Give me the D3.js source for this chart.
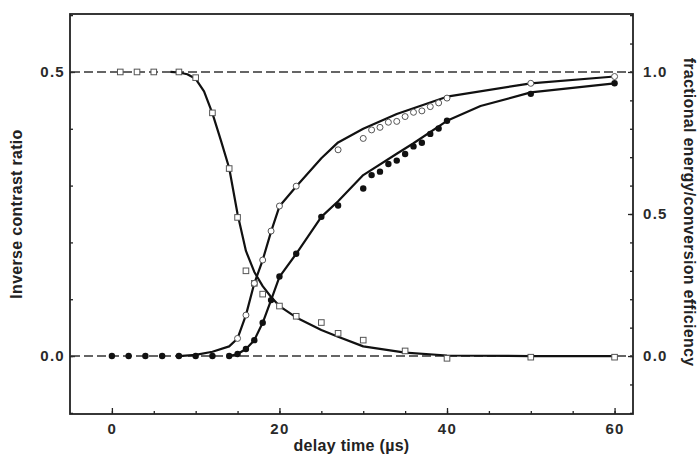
<!DOCTYPE html>
<html>
<head>
<meta charset="utf-8">
<style>
	body { margin: 0; background: #fff; }
	svg { font-family: "Liberation Sans", Arial, sans-serif; }
	.axis text { font-size: 15px; font-weight: bold; fill: #2a2a2a; letter-spacing: 1.3px; }
	.axis line { stroke: #222; stroke-width: 1.3; }
	.title { font-size: 16px; font-weight: bold; fill: #222; letter-spacing: 0.3px; }
</style>
<script src="https://d3js.org/d3.v7.min.js"></script>
</head>
<body>
<svg width="699" height="456"></svg>
<script>

	// inverse contrast ratio (left axis), open squares
	var sqT = [1, 3, 5, 8, 10, 12, 14, 15, 16, 17, 18, 20, 22, 25, 27, 30, 35, 40, 50, 60];
	var sqV = [0.5, 0.5, 0.5, 0.5, 0.49, 0.428, 0.33, 0.244, 0.150, 0.128, 0.109, 0.088, 0.070, 0.059, 0.040, 0.028, 0.009, -0.004, -0.002, -0.002];
	var sqFitT = [7, 8, 9, 10, 11, 12, 13, 14, 15, 16, 17, 18, 19, 20, 22, 25, 27, 30, 35, 40, 50, 60];
	var sqFitV = [0.5, 0.499, 0.496, 0.488, 0.466, 0.427, 0.38, 0.331, 0.25, 0.185, 0.148, 0.123, 0.104, 0.088, 0.068, 0.046, 0.034, 0.017, 0.006, 0.001, 0, 0];

	// fractional energy (right axis), open circles
	var openT = [15, 16, 17, 18, 19, 20, 22, 27, 30, 31, 32, 33, 34, 35, 36, 37, 38, 39, 40, 50, 60];
	var openF = [0.062, 0.144, 0.256, 0.338, 0.44, 0.528, 0.598, 0.726, 0.766, 0.796, 0.805, 0.823, 0.826, 0.843, 0.858, 0.863, 0.878, 0.891, 0.908, 0.96, 0.984];
	var openFitT = [8, 10, 12, 14, 15, 16, 17, 18, 19, 20, 22, 25, 27, 30, 34, 40, 50, 60];
	var openFitF = [0, 0.004, 0.015, 0.034, 0.062, 0.144, 0.256, 0.338, 0.438, 0.527, 0.597, 0.696, 0.752, 0.80, 0.852, 0.913, 0.96, 0.984];

	// conversion efficiency (right axis), filled circles
	var fillT = [0, 2, 4, 6, 8, 10, 12, 14, 15, 16, 17, 18, 19, 20, 22, 25, 27, 30, 31, 32, 33, 34, 35, 36, 37, 38, 39, 40, 50, 60];
	var fillF = [0, 0, 0, 0, 0, 0, 0, 0, 0.007, 0.025, 0.056, 0.117, 0.197, 0.28, 0.36, 0.49, 0.53, 0.59, 0.637, 0.649, 0.676, 0.688, 0.711, 0.738, 0.751, 0.782, 0.801, 0.828, 0.923, 0.96];
	var fillFitT = [14, 15, 16, 17, 18, 19, 20, 22, 25, 27, 30, 34, 36, 40, 44, 50, 60];
	var fillFitF = [0, 0.007, 0.025, 0.056, 0.117, 0.197, 0.279, 0.36, 0.49, 0.545, 0.637, 0.712, 0.749, 0.828, 0.88, 0.928, 0.96];

	var refLines = [0, 0.5];
	var xTicks = [0, 20, 40, 60];
	var leftTicks = [0, 0.5];
	var rightTicks = [0, 0.5, 1.0];

	var svg = d3.select("svg");
	var fLeft = 70, fRight = 633, fTop = 14, fBottom = 414;

	var x = d3.scaleLinear().domain([-5, 62.2]).range([fLeft, fRight]);
	var yL = d3.scaleLinear().domain([-0.102, 0.602]).range([fBottom, fTop]);
	var yR = d3.scaleLinear().domain([-0.204, 1.204]).range([fBottom, fTop]);

	function pts(ts, vs) { return ts.map(function(t, i) { return [t, vs[i]]; }); }

	// axes: minor ticks first, then labelled major ticks, all pointing inwards
	var gx = svg.append("g").attr("class", "axis").attr("transform", "translate(0," + fBottom + ")");
	gx.call(d3.axisBottom(x).tickValues(d3.range(0, 61, 5)).tickSize(-3).tickFormat(""));
	gx.append("g").call(d3.axisBottom(x).tickValues(xTicks).tickSize(-6).tickPadding(9).tickFormat(d3.format("d")));

	var gl = svg.append("g").attr("class", "axis").attr("transform", "translate(" + fLeft + ",0)");
	gl.call(d3.axisLeft(yL).tickValues(d3.range(-0.1, 0.61, 0.1)).tickSize(-3).tickFormat(""));
	gl.append("g").call(d3.axisLeft(yL).tickValues(leftTicks).tickSize(-5).tickPadding(5).tickFormat(d3.format(".1f")));

	var gr = svg.append("g").attr("class", "axis").attr("transform", "translate(" + fRight + ",0)");
	gr.call(d3.axisRight(yR).tickValues(d3.range(-0.2, 1.21, 0.1)).tickSize(-3).tickFormat(""));
	gr.append("g").call(d3.axisRight(yR).tickValues(rightTicks).tickSize(-5).tickPadding(10).tickFormat(d3.format(".1f")));

	svg.selectAll(".domain").remove();

	svg.append("rect")
		.attr("x", fLeft).attr("y", fTop)
		.attr("width", fRight - fLeft).attr("height", fBottom - fTop)
		.attr("fill", "none").attr("stroke", "#222").attr("stroke-width", 1.8);

	// dashed reference lines
	svg.selectAll(".ref").data(refLines).enter().append("line")
		.attr("x1", fLeft + 1).attr("x2", fRight - 1)
		.attr("y1", function(d) { return yL(d); }).attr("y2", function(d) { return yL(d); })
		.attr("stroke", "#333").attr("stroke-width", 1.6).attr("stroke-dasharray", "9,4");

	// fit curves
	var lineL = d3.line().x(function(d) { return x(d[0]); }).y(function(d) { return yL(d[1]); });
	var lineR = d3.line().x(function(d) { return x(d[0]); }).y(function(d) { return yR(d[1]); });

	[[lineL, pts(sqFitT, sqFitV)], [lineR, pts(openFitT, openFitF)], [lineR, pts(fillFitT, fillFitF)]].forEach(function(c) {
		svg.append("path").attr("d", c[0](c[1]))
			.attr("fill", "none").attr("stroke", "#111").attr("stroke-width", 2.2)
			.attr("stroke-linejoin", "round");
	});

	// markers
	svg.selectAll(".sq").data(pts(sqT, sqV)).enter().append("rect")
		.attr("x", function(d) { return x(d[0]) - 2.8; })
		.attr("y", function(d) { return yL(d[1]) - 2.8; })
		.attr("width", 5.6).attr("height", 5.6)
		.attr("fill", "#fff").attr("stroke", "#555").attr("stroke-width", 1);

	svg.selectAll(".oc").data(pts(openT, openF)).enter().append("circle")
		.attr("cx", function(d) { return x(d[0]); })
		.attr("cy", function(d) { return yR(d[1]); })
		.attr("r", 3)
		.attr("fill", "#fff").attr("stroke", "#555").attr("stroke-width", 1);

	svg.selectAll(".fc").data(pts(fillT, fillF)).enter().append("circle")
		.attr("cx", function(d) { return x(d[0]); })
		.attr("cy", function(d) { return yR(d[1]); })
		.attr("r", 3.2)
		.attr("fill", "#111");

	// axis titles
	svg.append("text").attr("class", "title")
		.attr("x", (fLeft + fRight) / 2).attr("y", 451)
		.attr("text-anchor", "middle").text("delay time (\u00b5s)");

	svg.append("text").attr("class", "title")
		.attr("transform", "translate(22,214) rotate(-90)")
		.attr("text-anchor", "middle").text("Inverse contrast ratio");

	svg.append("text").attr("class", "title")
		.attr("transform", "translate(684,212) rotate(90)")
		.attr("text-anchor", "middle").text("fractional energy/conversion efficiency");

</script>
</body>
</html>
